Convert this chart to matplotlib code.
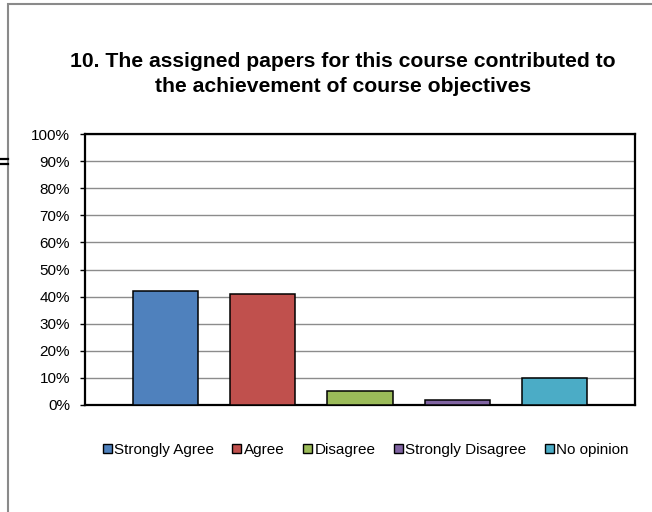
import matplotlib.pyplot as plt
from matplotlib.lines import Line2D
from matplotlib.patches import Patch, Rectangle
from matplotlib.ticker import FuncFormatter, MultipleLocator

plt.rcParams['font.family'] = ['Liberation Sans', 'DejaVu Sans']

# survey answers, share of respondents in %
answers = ['Strongly Agree', 'Agree', 'Disagree', 'Strongly Disagree', 'No opinion']
shares = [42, 41, 5, 2, 10]
colors = ['#4F81BD', '#C0504D', '#9BBB59', '#8064A2', '#4BACC6']
title = ('10. The assigned papers for this course contributed to\n'
         'the achievement of course objectives')

W, H = 652, 512
fig = plt.figure(figsize=(W / 100, H / 100), dpi=100)

# outer chart border (runs off the right / bottom of the crop)
fig.add_artist(Rectangle((8 / W, -0.5), 2.0, 0.5 + 1 - 4 / H, transform=fig.transFigure,
                         fill=False, edgecolor='#8a8a8a', linewidth=1.5))
# stray "=" mark left of the chart
for yy in (159, 163.5):
    fig.add_artist(Line2D([0, 7.5 / W], [1 - yy / H] * 2, transform=fig.transFigure,
                          color='black', linewidth=1.6))

ax = fig.add_axes([85 / W, 1 - 405 / H, 550 / W, 271 / H])
x = range(len(shares))
ax.bar(x, shares, width=0.67, color=colors, edgecolor='black', linewidth=1.1, zorder=3)

ax.set_xlim(-0.823, len(shares) - 1 + 0.823)
ax.set_ylim(0, 100)
ax.yaxis.set_major_locator(MultipleLocator(10))
ax.yaxis.set_major_formatter(FuncFormatter(lambda v, p: '%d%%' % v))
ax.grid(axis='y', color='#8c8c8c', linewidth=1.0, zorder=0)
ax.set_xticks([])
ax.tick_params(axis='y', length=3.8, width=1.0, pad=7, labelsize=11, colors='black')
for s in ax.spines.values():
    s.set_linewidth(1.6)
    s.set_color('black')

fig.text(343 / W, 1 - 74 / H, title, ha='center', va='center', multialignment='center',
         fontsize=15.2, fontweight='bold', linespacing=1.38)

handles = [Patch(facecolor=c, edgecolor='black', linewidth=1.0) for c in colors]
fig.legend(handles, answers, loc='center', bbox_to_anchor=(365.5 / W, 1 - 450 / H),
           ncol=5, frameon=False, fontsize=11, handlelength=0.6, handleheight=0.6,
           handletextpad=0.15, columnspacing=1.2, borderpad=0)

fig.savefig('out.png', dpi=100)
